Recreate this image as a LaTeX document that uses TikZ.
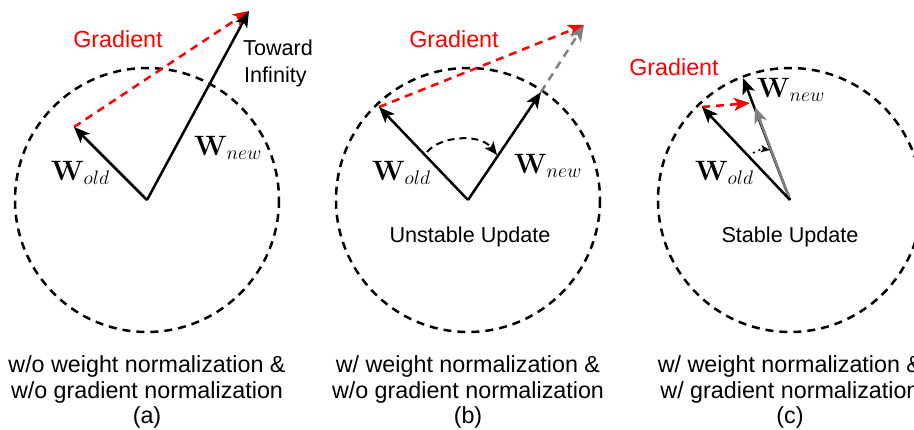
\RequirePackage{fix-cm}
\documentclass[tikz,border=0pt]{standalone}
\usepackage[no-math]{fontspec}
\newfontfamily\lab{Liberation Sans}
\usetikzlibrary{arrows.meta}
\tikzset{
  circ/.style={line width=2.5pt, dash pattern=on 8pt off 6pt},
  vec/.style={line width=2.5pt, -{Stealth[length=16pt,width=13pt,inset=4pt]}},
  gradvec/.style={vec, red, dash pattern=on 8pt off 6pt},
  grayvec/.style={vec, gray},
  graydash/.style={vec, gray, dash pattern=on 8pt off 6pt},
  rotarc/.style={line width=2pt, dash pattern=on 7pt off 5pt, -{Stealth[length=13pt,width=11pt,inset=3pt]}},
  lbl/.style={font=\lab\fontsize{21.6}{26}\selectfont, inner sep=0pt},
  redlbl/.style={font=\lab\fontsize{23.3}{26}\selectfont, inner sep=0pt, anchor=base, text=red},
  caption/.style={font=\lab\fontsize{23.3}{26}\selectfont, inner sep=0pt, anchor=base},
  wlab/.style={font=\fontsize{28}{32}\selectfont, inner sep=0pt, anchor=base west},
}
\begin{document}
\begin{tikzpicture}[x=1pt,y=-1pt]
\useasboundingbox (0,0) rectangle (914,429);
\clip (0,0) rectangle (914,429);

% ---------- panel (a) ----------
\coordinate (Oa) at (147,200);
\coordinate (Aold) at (74,127);
\coordinate (Anew) at (249,11);
\draw[circ] (Oa) circle[radius=132];
\draw[gradvec] (Aold) -- (Anew);
\draw[vec] (Oa) -- (Aold);
\draw[vec] (Oa) -- (Anew);
\node[redlbl] (ga) at (118,47) {Gradient};
\node[lbl, anchor=base west] (ta) at (243,55) {Toward};
\node[lbl, anchor=base west] (ia) at (244,82) {Infinity};
\node[wlab] (wao) at (51,180) {$\mathbf{W}_{old}$};
\node[wlab] (wan) at (194,155) {$\mathbf{W}_{new}$};
\node[caption] (ca1) at (147,372) {w/o weight normalization \&};
\node[caption] (ca2) at (147,398) {w/o gradient normalization};
\node[caption] (ca3) at (147,423) {(a)};

% ---------- panel (b) ----------
\coordinate (Ob) at (468,200);
\coordinate (Bold) at (379,107);
\coordinate (Bnew) at (541,92);
\coordinate (Bsum) at (584,25);
\coordinate (Bs) at (427,152);
\coordinate (Be) at (497,155);
\draw[circ] (Ob) circle[radius=132];
\draw[gradvec] (Bold) -- (Bsum);
\draw[graydash] (Bnew) -- (Bsum);
\draw[vec] (Ob) -- (Bold);
\draw[vec] (Ob) -- (Bnew);
\draw[rotarc] (Bs) .. controls (440,136) and (480,133) .. (Be);
\node[redlbl] (gb) at (454,47) {Gradient};
\node[wlab] (wbo) at (372,180) {$\mathbf{W}_{old}$};
\node[wlab] (wbn) at (514,173) {$\mathbf{W}_{new}$};
\node[lbl, anchor=base] (ub) at (470,242) {Unstable Update};
\node[caption] (cb1) at (468,372) {w/ weight normalization \&};
\node[caption] (cb2) at (468,398) {w/o gradient normalization};
\node[caption] (cb3) at (468,423) {(b)};

% ---------- panel (c) ----------
\coordinate (Oc) at (790,200);
\coordinate (Cold) at (702,107);
\coordinate (Cnew) at (743,78);
\coordinate (Csum) at (755,107);
\coordinate (Cgt) at (750,103);
\coordinate (Cs) at (753,153);
\coordinate (Ce) at (770,150);
\draw[circ] (Oc) circle[radius=132];
\draw[vec] (Oc) -- (Cnew);
\draw[grayvec] (Oc) -- (Csum);
\draw[gradvec] (Cold) -- (Cgt);
\draw[vec] (Oc) -- (Cold);
\draw[line width=1.6pt, dash pattern=on 2pt off 4pt, -{Stealth[length=9pt,width=7pt,inset=2pt]}] (Cs) .. controls (758,150) and (763,149) .. (Ce);
\node[redlbl] (gc) at (674,75) {Gradient};
\node[wlab] (wco) at (695,180) {$\mathbf{W}_{old}$};
\node[wlab] (wcn) at (757,97) {$\mathbf{W}_{new}$};
\node[lbl, anchor=base] (sc) at (790,242) {Stable Update};
\node[caption] (cc1) at (790,372) {w/ weight normalization \&};
\node[caption] (cc2) at (790,398) {w/ gradient normalization};
\node[caption] (cc3) at (790,423) {(c)};
\end{tikzpicture}
\end{document}
